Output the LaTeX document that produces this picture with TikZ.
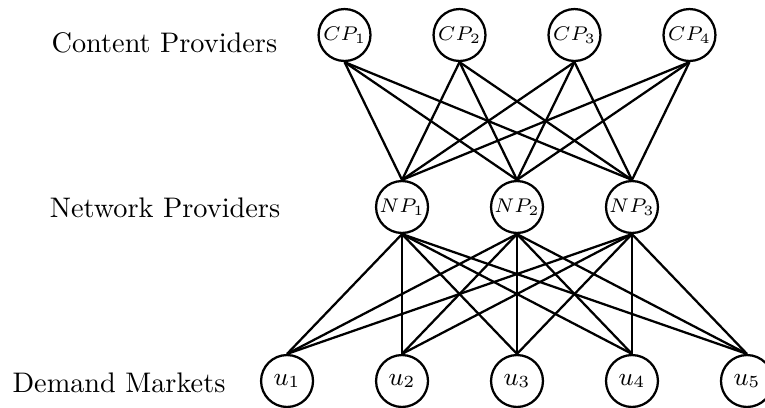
\documentclass[tikz,border=0pt]{standalone}
\usepackage{amsmath}
\usepackage{tikz}
\usetikzlibrary{positioning}

\begin{document}
\begin{tikzpicture}[
    node distance=1.428cm,
    on grid,
    provider/.style={draw, circle, thick, minimum size=0.645cm, inner sep=0pt, font=\scriptsize},
    market/.style={provider, font=\small},
    link/.style={thick},
    layer/.style={font=\normalsize}
]
    \useasboundingbox (0,0) rectangle (9.501,-5.055);

    % Demand Markets
    \node[market] (u1) at (3.565,-4.732) {$u_1$};
    \node[market, right=of u1] (u2) {$u_2$};
    \node[market, right=of u2] (u3) {$u_3$};
    \node[market, right=of u3] (u4) {$u_4$};
    \node[market, right=of u4] (u5) {$u_5$};

    % Network Providers
    \node[provider, above=2.161cm of u2] (np1) {$NP_1$};
    \node[provider, right=of np1] (np2) {$NP_2$};
    \node[provider, right=of np2] (np3) {$NP_3$};

    % Content Providers
    \node[provider, above left=2.136cm and 0.714cm of np1] (cp1) {$CP_1$};
    \node[provider, right=of cp1] (cp2) {$CP_2$};
    \node[provider, right=of cp2] (cp3) {$CP_3$};
    \node[provider, right=of cp3] (cp4) {$CP_4$};

    % Content to Network
    \draw[link] (cp1.south) -- (np1.north);
    \draw[link] (cp1.south) -- (np2.north);
    \draw[link] (cp1.south) -- (np3.north);
    \draw[link] (cp2.south) -- (np1.north);
    \draw[link] (cp2.south) -- (np2.north);
    \draw[link] (cp2.south) -- (np3.north);
    \draw[link] (cp3.south) -- (np1.north);
    \draw[link] (cp3.south) -- (np2.north);
    \draw[link] (cp3.south) -- (np3.north);
    \draw[link] (cp4.south) -- (np1.north);
    \draw[link] (cp4.south) -- (np2.north);
    \draw[link] (cp4.south) -- (np3.north);

    % Network to Demand
    \draw[link] (np1.south) -- (u1.north);
    \draw[link] (np1.south) -- (u2.north);
    \draw[link] (np1.south) -- (u3.north);
    \draw[link] (np1.south) -- (u4.north);
    \draw[link] (np1.south) -- (u5.north);
    \draw[link] (np2.south) -- (u1.north);
    \draw[link] (np2.south) -- (u2.north);
    \draw[link] (np2.south) -- (u3.north);
    \draw[link] (np2.south) -- (u4.north);
    \draw[link] (np2.south) -- (u5.north);
    \draw[link] (np3.south) -- (u1.north);
    \draw[link] (np3.south) -- (u2.north);
    \draw[link] (np3.south) -- (u3.north);
    \draw[link] (np3.south) -- (u4.north);
    \draw[link] (np3.south) -- (u5.north);

    % Labels
    \node[layer] (cplabel) at (2.042,-0.534) {Content Providers};
    \node[layer] (nplabel) at (2.049,-2.583) {Network Providers};
    \node[layer] (ulabel) at (1.478,-4.757) {Demand Markets};
\end{tikzpicture}
\end{document}
